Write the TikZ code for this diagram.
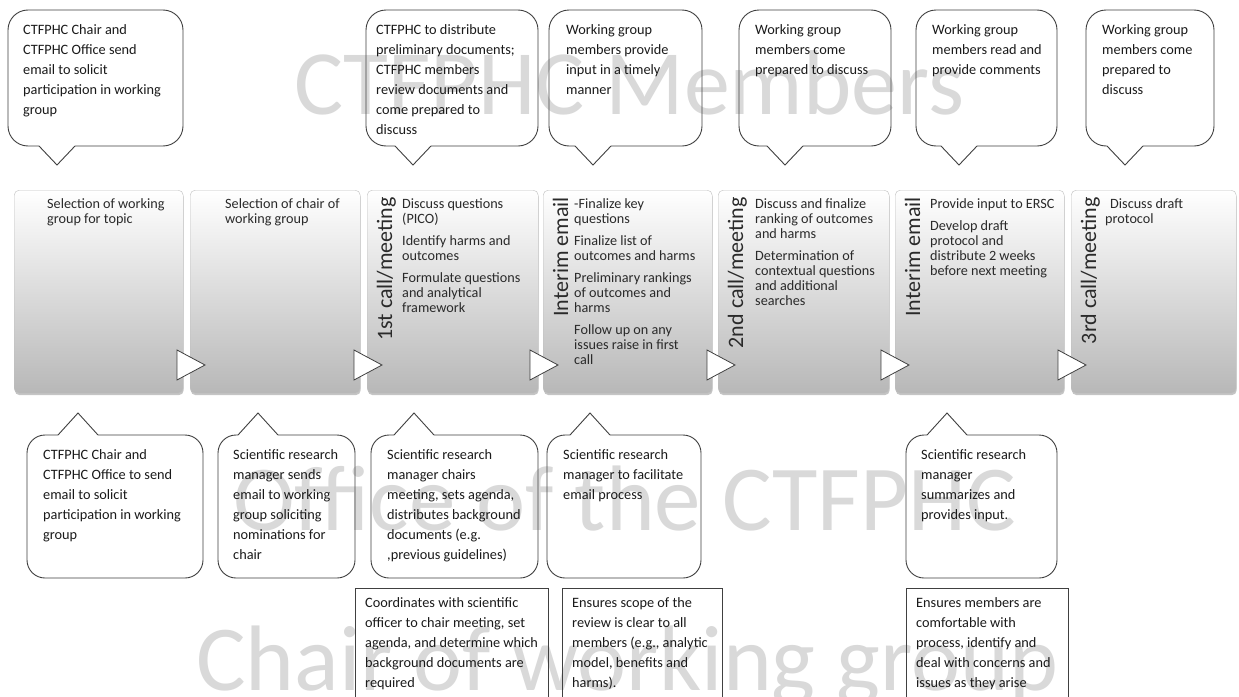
\documentclass[tikz,border=0pt]{standalone}
\usepackage{fontspec}
\setmainfont{Carlito}
\usetikzlibrary{shadows}
\definecolor{wm}{HTML}{D9D9D9}
\definecolor{ln}{HTML}{404040}
\definecolor{tx}{HTML}{1A1A1A}
\definecolor{btx}{HTML}{2A2A2A}
\tikzset{
 callline/.style={draw=ln, line width=0.9pt},
 calltext/.style={anchor=north west, inner sep=0pt, align=left, text=tx, font=\fontsize{14.3}{20}\selectfont},
 procbox/.style={draw=black!25, rounded corners=5pt, top color=white, bottom color=black!28, inner sep=0pt, anchor=north west,
   minimum height=203pt, drop shadow={shadow xshift=0.5pt, shadow yshift=-2pt, opacity=0.45}},
 boxtext/.style={anchor=north west, inner sep=0pt, align=left, text=btx, font=\fontsize{14.2}{15}\selectfont},
 vlabel/.style={rotate=90, anchor=base east, inner sep=0pt, text=btx, font=\fontsize{22}{24}\selectfont},
 chev/.style={draw=ln, fill=white, line width=0.8pt, line join=miter},
 notebox/.style={draw=ln, line width=0.8pt, inner sep=0pt, anchor=north west, minimum height=115pt},
 wmark/.style={anchor=base west, inner sep=0pt, text=wm, font=\fontsize{93}{100}\selectfont},
}
\newcommand\tcall[3]{%
 \draw[callline, rounded corners=20pt] (#3+18,146) -- (#2,146) -- (#2,10) -- (#1,10) -- (#1,146) -- (#3-18,146);
 \draw[callline, line join=miter] (#3-18,146) -- (#3,165) -- (#3+18,146);}
\newcommand\bcall[3]{%
 \draw[callline, rounded corners=18pt] (#3+20,435) -- (#2,435) -- (#2,578) -- (#1,578) -- (#1,435) -- (#3-20,435);
 \draw[callline, line join=miter] (#3-20,435) -- (#3,413) -- (#3+20,435);}
\begin{document}
\begin{tikzpicture}[x=1pt, y=-1pt]
\useasboundingbox[fill=white] (0,0) rectangle (1239,696);
% watermarks
\node[wmark, font=\fontsize{92}{100}\selectfont] (wm1) at (294,114) {CTFPHC Members};
\node[wmark] (wm2) at (233,530) {Office of the CTFPHC};
\node[wmark] (wm3) at (196,690) {Chair of working group};
% top callouts
\tcall{8}{183}{57}
\tcall{366}{538}{413}
\tcall{549}{702}{593}
\tcall{739}{891}{785}
\tcall{916}{1057}{959}
\tcall{1086}{1214}{1125}
\node[calltext] (t1) at (23,24) {CTFPHC Chair and\\CTFPHC Office send\\email to solicit\\participation in working\\group};
\node[calltext] (t2) at (376,24) {CTFPHC to distribute\\preliminary documents;\\CTFPHC members\\review documents and\\come prepared to\\discuss};
\node[calltext] (t3) at (566,24) {Working group\\members provide\\input in a timely\\manner};
\node[calltext] (t4) at (755,24) {Working group\\members come\\prepared to discuss};
\node[calltext] (t5) at (932,24) {Working group\\members read and\\provide comments};
\node[calltext] (t6) at (1102,24) {Working group\\members come\\prepared to\\discuss};
% process boxes
\node[procbox, minimum width=169pt] (b1) at (14,190) {};
\node[procbox, minimum width=170pt] (b2) at (190,190) {};
\node[procbox, minimum width=171pt] (b3) at (367,190) {};
\node[procbox, minimum width=169pt] (b4) at (543,190) {};
\node[procbox, minimum width=171pt] (b5) at (718,190) {};
\node[procbox, minimum width=169pt] (b6) at (895,190) {};
\node[procbox, minimum width=165pt] (b7) at (1071,190) {};
% chevrons
\foreach \cx in {177,354,530,707,881,1058}{
  \draw[chev] (\cx,350) -- (\cx,380) -- (\cx+28,365) -- cycle;
}
% vertical labels
\node[vlabel] (v3) at (392,197) {1st call/meeting};
\node[vlabel] (v4) at (568,197) {Interim email};
\node[vlabel] (v5) at (743,197) {2nd call/meeting};
\node[vlabel] (v6) at (920,197) {Interim email};
\node[vlabel] (v7) at (1096,197) {3rd call/meeting};
% box texts
\node[boxtext] (x1) at (47,198) {Selection of working\\group for topic};
\node[boxtext] (x2) at (225,198) {Selection of chair of\\working group};
\node[boxtext] (x3) at (402,198) {Discuss questions\\(PICO)\\[7pt]Identify harms and\\outcomes\\[7pt]Formulate questions\\and analytical\\framework};
\node[boxtext] (x4) at (574,198) {-Finalize key\\questions\\[7pt]Finalize list of\\outcomes and harms\\[7pt]Preliminary rankings\\of outcomes and\\harms\\[7pt]Follow up on any\\issues raise in first\\call};
\node[boxtext] (x5) at (755,198) {Discuss and finalize\\ranking of outcomes\\and harms\\[7pt]Determination of\\contextual questions\\and additional\\searches};
\node[boxtext] (x6) at (930,198) {Provide input to ERSC\\[7pt]Develop draft\\protocol and\\distribute 2 weeks\\before next meeting};
\node[boxtext] (x7) at (1105,198) {\hspace*{5pt}Discuss draft\\protocol};
% bottom callouts
\bcall{27}{203}{78}
\bcall{218}{355}{258}
\bcall{371}{538}{414}
\bcall{547}{701}{590}
\bcall{906}{1057}{947}
\node[calltext] (d1) at (43,449) {CTFPHC Chair and\\CTFPHC Office to send\\email to solicit\\participation in working\\group};
\node[calltext] (d2) at (233,449) {Scientific research\\manager sends\\email to working\\group soliciting\\nominations for\\chair};
\node[calltext] (d3) at (387,449) {Scientific research\\manager chairs\\meeting, sets agenda,\\distributes background\\documents (e.g.\\,previous guidelines)};
\node[calltext] (d4) at (563,449) {Scientific research\\manager to facilitate\\email process};
\node[calltext] (d5) at (921,449) {Scientific research\\manager\\summarizes and\\provides input.};
% note rectangles
\node[notebox, minimum width=193pt] (r1) at (355,588) {};
\node[notebox, minimum width=160pt] (r2) at (562,588) {};
\node[notebox, minimum width=162pt] (r3) at (906,588) {};
\node[calltext] (n1) at (365,597) {Coordinates with scientific\\officer to chair meeting, set\\agenda, and determine which\\background documents are\\required};
\node[calltext] (n2) at (572,597) {Ensures scope of the\\review is clear to all\\members (e.g., analytic\\model, benefits and\\harms).};
\node[calltext] (n3) at (916,597) {Ensures members are\\comfortable with\\process, identify and\\deal with concerns and\\issues as they arise};
\end{tikzpicture}
\end{document}
